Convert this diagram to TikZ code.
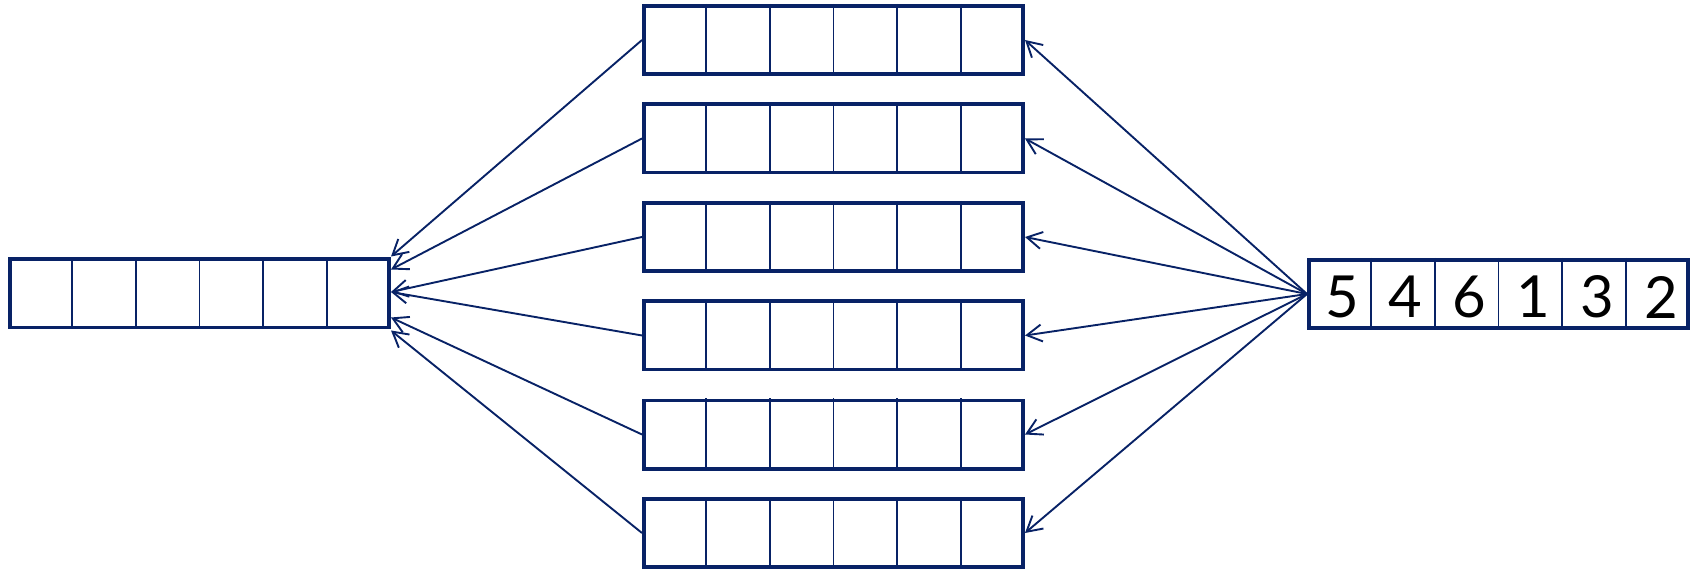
\documentclass[tikz,border=0pt]{standalone}
\usepackage{fontspec}
\setmainfont{Lato}
\usetikzlibrary{calc,arrows.meta}
\definecolor{navy}{RGB}{8,34,102}
\tikzset{
  arraybox/.style={draw=navy, line width=1.8pt, minimum width=189.7pt, minimum height=34.2pt, inner sep=0pt, fill=white},
  divider/.style={draw=navy, line width=0.9pt},
  arr/.style={draw=navy, line width=0.95pt, -{Straight Barb[length=7.5pt,width=8.5pt,line width=0.95pt]}},
  digit/.style={text=black, font=\fontsize{29}{30}\selectfont, inner sep=0pt}
}
\begin{document}
\begin{tikzpicture}[x=0.5pt,y=-0.5pt]
\useasboundingbox (0,0) rectangle (1696,571);
% boxes
\node[arraybox] (L) at (199.5,293.5) {};
\node[arraybox] (R) at (1498.5,294) {};
\node[arraybox] (m1) at (833.5,40) {};
\node[arraybox] (m2) at (833.5,138.5) {};
\node[arraybox] (m3) at (833.5,237) {};
\node[arraybox] (m4) at (833.5,335.5) {};
\node[arraybox] (m5) at (833.5,434.5) {};
\node[arraybox] (m6) at (833.5,533) {};
% dividers
\foreach \b in {L,R,m1,m2,m3,m4,m5,m6}{
  \foreach \i in {1,...,5}{
    \draw[divider] ($(\b.north west)!\i/6!(\b.north east)$) -- ($(\b.south west)!\i/6!(\b.south east)$);
  }
}
% digits
\foreach \d [count=\i] in {5,4,6,1,3,2}{
  \node[digit] (d\i) at ($(R.west)!{(2*\i-1)/12}!(R.east)+(3,3)$) {\d};
}
% arrows right -> middle
\foreach \m in {m1,m2,m3,m4,m5,m6}{
  \draw[arr] (R.west) -- (\m.east);
}
% arrows middle -> left
\draw[arr] (m1.west) -- ($(L.east)+(0,-37)$);
\draw[arr] (m2.west) -- ($(L.east)+(0,-24)$);
\draw[arr] (m3.west) -- ($(L.east)+(0,-1.5)$);
\draw[arr] (m4.west) -- ($(L.east)+(0,-1.5)$);
\draw[arr] (m5.west) -- ($(L.east)+(0,24)$);
\draw[arr] (m6.west) -- ($(L.east)+(0,37)$);
\end{tikzpicture}
\end{document}
